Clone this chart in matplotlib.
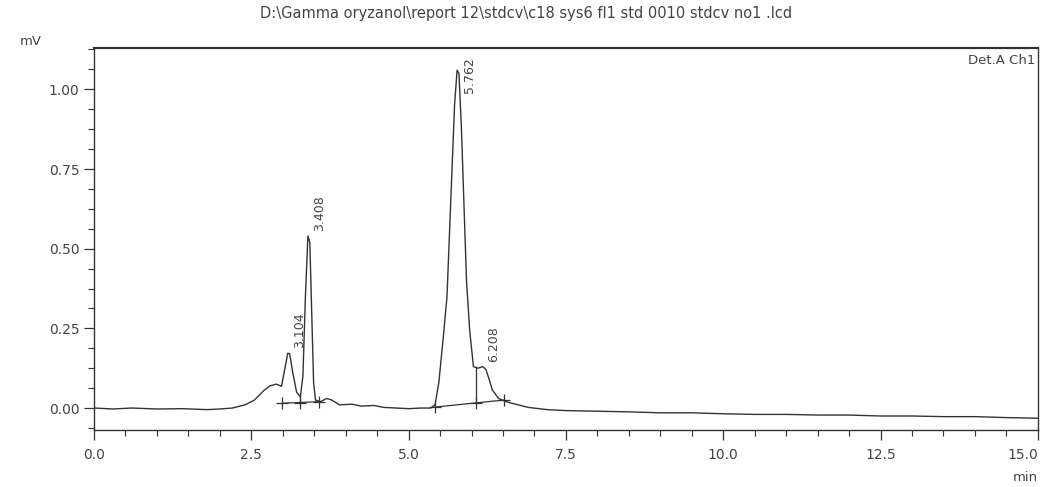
import matplotlib
matplotlib.use("Agg")
import matplotlib.pyplot as plt
from matplotlib.ticker import MultipleLocator, AutoMinorLocator, FuncFormatter, FormatStrFormatter

# ---- data ----
time_min = [0.0, 0.3, 0.6, 1.0, 1.4, 1.8, 2.0, 2.2, 2.4, 2.55, 2.7, 2.8, 2.9, 2.98,
            3.03, 3.08, 3.11, 3.16, 3.22, 3.28, 3.32, 3.36, 3.40, 3.43, 3.46, 3.49,
            3.52, 3.6, 3.7, 3.78, 3.9, 4.1, 4.25, 4.45, 4.6, 4.8, 5.0, 5.2, 5.35,
            5.42, 5.48, 5.55, 5.61, 5.65, 5.69, 5.73, 5.77, 5.80, 5.84, 5.87, 5.92,
            5.97, 6.03, 6.1, 6.18, 6.23, 6.28, 6.33, 6.43, 6.55, 6.7, 6.9, 7.2, 7.5,
            8.0, 8.5, 9.0, 9.5, 10.0, 10.5, 11.0, 11.5, 12.0, 12.5, 13.0, 13.5,
            14.0, 14.5, 15.0]
signal_mv = [0.0, -0.003, 0.0, -0.003, -0.002, -0.005, -0.003, 0.0, 0.01, 0.025,
             0.055, 0.07, 0.075, 0.068, 0.12, 0.172, 0.17, 0.11, 0.05, 0.035, 0.1,
             0.35, 0.54, 0.52, 0.3, 0.08, 0.025, 0.02, 0.03, 0.025, 0.01, 0.012,
             0.006, 0.008, 0.002, 0.0, -0.002, 0.0, 0.0, 0.01, 0.08, 0.22, 0.35,
             0.55, 0.75, 0.95, 1.06, 1.05, 0.874, 0.695, 0.40, 0.245, 0.13, 0.125,
             0.13, 0.12, 0.09, 0.057, 0.03, 0.02, 0.012, 0.002, -0.005, -0.008,
             -0.01, -0.012, -0.015, -0.015, -0.018, -0.02, -0.02, -0.022, -0.022,
             -0.025, -0.025, -0.027, -0.027, -0.03, -0.032]

# integration baselines (start, end) and peak split points
base1_t = [2.99, 3.57]
base1_v = [0.015, 0.02]
base2_t = [5.42, 6.51]
base2_v = [0.003, 0.025]
drop_t = [3.28, 6.07]
drop_top = [0.035, 0.128]
drop_bot = [0.017, 0.015]

peak_labels = ["3.104", "3.408", "5.762", "6.208"]
peak_apex_t = [3.10, 3.41, 5.77, 6.18]
peak_apex_v = [0.172, 0.54, 1.06, 0.13]

x_max = 15.0
title = r"D:\Gamma oryzanol\report 12\stdcv\c18 sys6 fl1 std 0010 stdcv no1 .lcd"

ink = "#333333"
txt = "#444444"

fig = plt.figure(figsize=(10.43, 4.87), dpi=100)
ax = fig.add_axes([0.0901, 0.117, 0.905, 0.784])

ax.plot(time_min, signal_mv, color=ink, lw=1.0)
ax.plot(base1_t, base1_v, color=ink, lw=0.9)
ax.plot(base2_t, base2_v, color=ink, lw=0.9)
for t, top, bot in zip(drop_t, drop_top, drop_bot):
    ax.plot([t, t], [top, bot], color=ink, lw=0.9)
mk_t = [base1_t[0], drop_t[0], base1_t[1], base2_t[0], drop_t[1], base2_t[1]]
mk_v = [base1_v[0], drop_bot[0], base1_v[1], base2_v[0], drop_bot[1], base2_v[1]]
ax.plot(mk_t, mk_v, linestyle="none", marker="+", markersize=8, color=ink, mew=0.9)

# peak labels (rotated)
offs_x = [0.16, 0.18, 0.20, 0.17]
for lab, t, v, dx in zip(peak_labels, peak_apex_t, peak_apex_v, offs_x):
    if v > 0.9:
        ax.text(t + dx, 1.10, lab, rotation=90, ha="center", va="top",
                fontsize=9, color=txt)
    else:
        ax.text(t + dx, v + 0.015, lab, rotation=90, ha="center", va="bottom",
                fontsize=9, color=txt)

ax.set_xlim(0, x_max)
ax.set_ylim(-0.069, 1.129)
ax.xaxis.set_major_locator(MultipleLocator(2.5))
ax.xaxis.set_minor_locator(MultipleLocator(0.5))
ax.yaxis.set_major_locator(MultipleLocator(0.25))
ax.yaxis.set_minor_locator(AutoMinorLocator(4))
# last x label is drawn separately, right-aligned to the axis end
ax.xaxis.set_major_formatter(FuncFormatter(
    lambda v, p: "" if abs(v - x_max) < 1e-9 else f"{v:.1f}"))
ax.yaxis.set_major_formatter(FormatStrFormatter("%.2f"))
ax.tick_params(axis="both", which="major", length=7, width=0.9, colors=ink,
               labelsize=10, labelcolor=txt)
ax.tick_params(axis="both", which="minor", length=4, width=0.8, colors=ink)
ax.tick_params(axis="x", pad=6)
for s in ax.spines.values():
    s.set_color(ink)
    s.set_linewidth(1.0)
ax.spines["top"].set_linewidth(1.6)

ax.annotate(f"{x_max:.1f}", xy=(x_max, 0), xycoords=("data", "axes fraction"),
            xytext=(0, -13), textcoords="offset points", ha="right", va="top",
            fontsize=10, color=txt)

ax.text(0.997, 0.985, "Det.A Ch1", transform=ax.transAxes, ha="right", va="top",
        fontsize=9.5, color=txt)
fig.text(0.504, 0.972, title, ha="center", va="center", fontsize=10.5, color=txt)
fig.text(0.019, 0.914, "mV", ha="left", va="center", fontsize=9.5, color=txt)
fig.text(0.995, 0.02, "min", ha="right", va="center", fontsize=9.5, color=txt)

fig.savefig("out.png", dpi=100)
